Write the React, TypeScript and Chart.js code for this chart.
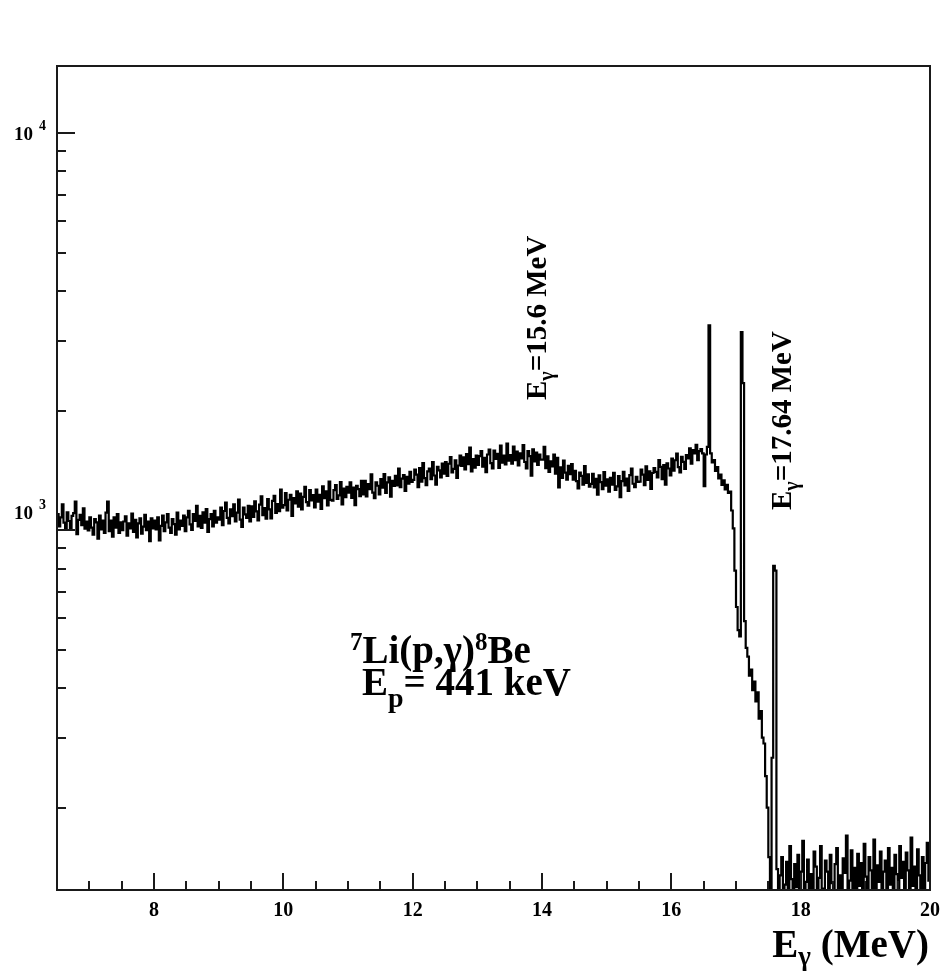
import React, { useEffect, useRef } from 'react';
import { Chart, registerables } from 'chart.js';

Chart.register(...registerables);

// ---------- data ----------
const BIN_START = 6.5; // MeV, left edge of first bin
const BIN_WIDTH = 0.025; // MeV

// counts per bin
const COUNTS_6_5_TO_8_5 = [
  1097, 1022, 1076, 1161, 1044, 1012, 1108, 1054, 1001, 1086, 1103, 1180, 977, 1061, 1092, 1029, 1134, 1008, 1050, 998,
  1076, 1014, 973, 1066, 1045, 952, 1087, 1004, 1056, 983, 1107, 1180, 994, 1056, 963, 1076, 1014, 1097, 983, 1045,
  999, 1051, 1082, 968, 1040, 1009, 1100, 989, 1061, 958, 1040, 1071, 979, 1020, 1092, 999, 1051, 937, 1071, 1009,
  1056, 1004, 1076, 942, 1025, 1087, 994, 1045, 1097, 1014, 983, 1066, 1035, 973, 1107, 1004, 1056, 1025, 1087, 994,
];
const COUNTS_8_5_TO_10_5 = [
  1076, 1118, 1033, 1001, 1097, 1054, 1150, 1022, 1086, 1012, 1108, 1044, 1129, 990, 1065, 1097, 1022, 1118, 1044, 1076,
  1062, 1139, 1029, 1117, 1172, 1073, 1040, 1128, 1084, 1161, 1051, 1106, 1194, 1062, 1018, 1139, 1095, 1073, 1150, 1051,
  1148, 1080, 1181, 1114, 1058, 1159, 1215, 1091, 1136, 1069, 1196, 1127, 1070, 1185, 1219, 1104, 1162, 1116, 1265, 1139,
  1156, 1239, 1121, 1192, 1227, 1086, 1204, 1168, 1251, 1145, 1236, 1128, 1212, 1284, 1176, 1152, 1260, 1188, 1224, 1140,
];
const COUNTS_10_5_TO_12_5 = [
  1264, 1179, 1227, 1130, 1288, 1203, 1251, 1154, 1324, 1191, 1186, 1260, 1297, 1198, 1223, 1321, 1161, 1272, 1210, 1284,
  1242, 1318, 1205, 1280, 1155, 1293, 1268, 1217, 1330, 1230, 1331, 1216, 1306, 1267, 1382, 1242, 1203, 1318, 1293, 1229,
  1344, 1279, 1383, 1240, 1318, 1357, 1214, 1331, 1292, 1370, 1295, 1428, 1282, 1348, 1375, 1255, 1362, 1308, 1402, 1322,
  1338, 1420, 1379, 1283, 1433, 1324, 1474, 1351, 1297, 1406, 1428, 1344, 1484, 1372, 1302, 1442, 1414, 1358, 1470, 1386,
];
const COUNTS_12_5_TO_14_5 = [
  1483, 1368, 1469, 1526, 1397, 1426, 1498, 1354, 1454, 1541, 1450, 1524, 1421, 1554, 1465, 1613, 1406, 1510, 1436, 1539,
  1460, 1535, 1580, 1445, 1520, 1400, 1550, 1595, 1475, 1430, 1586, 1510, 1556, 1434, 1632, 1479, 1540, 1464, 1650, 1495,
  1545, 1469, 1622, 1499, 1576, 1454, 1561, 1515, 1637, 1484, 1429, 1581, 1535, 1370, 1596, 1490, 1566, 1459, 1550, 1505,
  1505, 1620, 1431, 1534, 1401, 1490, 1446, 1549, 1387, 1519, 1280, 1438, 1354, 1495, 1396, 1340, 1452, 1382, 1466, 1340,
];
const COUNTS_14_5_TO_16_5 = [
  1409, 1328, 1274, 1396, 1369, 1301, 1450, 1314, 1382, 1287, 1307, 1386, 1280, 1346, 1228, 1373, 1320, 1267, 1399, 1294,
  1341, 1249, 1354, 1302, 1394, 1262, 1289, 1368, 1210, 1328, 1402, 1295, 1348, 1255, 1375, 1428, 1308, 1282, 1362, 1322,
  1324, 1420, 1379, 1297, 1447, 1338, 1406, 1269, 1392, 1433, 1401, 1358, 1500, 1443, 1344, 1457, 1302, 1472, 1429, 1373,
  1514, 1411, 1499, 1558, 1441, 1397, 1529, 1485, 1426, 1544, 1515, 1605, 1470, 1590, 1560, 1640, 1500, 1580, 1600, 1560,
];
const COUNTS_16_5_TO_17_5 = [
  1290, 1550, 1620, 3280, 1560, 1480, 1500, 1410, 1440, 1350, 1380, 1300, 1335, 1265, 1300, 1240, 1250, 1120, 1010, 790,
  640, 560, 540, 3150, 2345, 590, 505, 480, 430, 445, 395, 415, 370, 390, 335, 350, 300, 290, 240, 200,
];
const COUNTS_17_5_TO_20 = [
  150, 100, 267, 812, 790, 140, 112, 135, 150, 105, 128, 146, 118, 160, 132, 108, 144, 126, 152, 115,
  138, 165, 110, 130, 148, 120, 136, 104, 155, 142, 118, 133, 160, 125, 112, 147, 138, 106, 152, 129,
  116, 144, 158, 122, 135, 102, 149, 137, 170, 114, 131, 156, 120, 141, 109, 153, 127, 145, 118, 162,
  134, 111, 150, 139, 124, 166, 107, 143, 130, 155, 119, 138, 147, 103, 158, 128, 141, 115, 152, 136,
  121, 160, 133, 146, 108, 154, 139, 117, 168, 127, 142, 112, 157, 135, 124, 150, 106, 145, 163, 131,
];
const COUNTS = [
  ...COUNTS_6_5_TO_8_5,
  ...COUNTS_8_5_TO_10_5,
  ...COUNTS_10_5_TO_12_5,
  ...COUNTS_12_5_TO_14_5,
  ...COUNTS_14_5_TO_16_5,
  ...COUNTS_16_5_TO_17_5,
  ...COUNTS_17_5_TO_20,
];

const X_MIN = 6.5;
const X_MAX = 20;
const Y_MIN = 124;
const Y_MAX = 14750;

const X_TICK_LABELS = [8, 10, 12, 14, 16, 18, 20];
const X_MINOR_STEP = 0.5;
const Y_MAJOR_TICKS = [1000, 10000];
const Y_TICK_EXPONENTS = ['3', '4'];
const Y_MINOR_TICKS = [200, 300, 400, 500, 600, 700, 800, 900, 2000, 3000, 4000, 5000, 6000, 7000, 8000, 9000];

const PEAK_LABELS = ['15.6', '17.64'];
const REACTION = { a: '7', target: 'Li(p,\u03b3)', b: '8', product: 'Be' };
const BEAM_ENERGY = '441 keV';
const X_TITLE = { main: 'E', sub: '\u03b3', unit: ' (MeV)' };

// ---------- drawing helpers ----------
const SERIF = '"Liberation Serif", "Times New Roman", serif';
type Seg = { t: string; size: number; bold?: boolean; dy?: number };
const fontOf = (s: Seg) => `${s.bold ? 'bold ' : ''}${s.size}px ${SERIF}`;
function richWidth(ctx: CanvasRenderingContext2D, segs: Seg[]) {
  let w = 0;
  for (const s of segs) {
    ctx.font = fontOf(s);
    w += ctx.measureText(s.t).width;
  }
  return w;
}
function drawRich(ctx: CanvasRenderingContext2D, segs: Seg[], x: number, y: number) {
  let cx = x;
  ctx.textAlign = 'left';
  ctx.textBaseline = 'alphabetic';
  for (const s of segs) {
    ctx.font = fontOf(s);
    ctx.fillText(s.t, cx, y + (s.dy || 0));
    cx += ctx.measureText(s.t).width;
  }
}

const decorPlugin = {
  id: 'decor',
  beforeDraw(chart: any) {
    const ctx = chart.ctx as CanvasRenderingContext2D;
    ctx.save();
    ctx.fillStyle = '#ffffff';
    ctx.fillRect(0, 0, chart.width, chart.height);
    ctx.restore();
  },
  afterDraw(chart: any) {
    const ctx = chart.ctx as CanvasRenderingContext2D;
    const { left, right, top, bottom } = chart.chartArea;
    const xs = chart.scales.x;
    const ys = chart.scales.y;
    ctx.save();
    ctx.strokeStyle = '#1a1a1a';
    ctx.fillStyle = '#000';
    ctx.lineWidth = 2;

    // x ticks (inside, pointing up)
    const nX = Math.round((X_MAX - X_MIN) / X_MINOR_STEP);
    ctx.beginPath();
    for (let i = 0; i <= nX; i++) {
      const v = X_MIN + i * X_MINOR_STEP;
      const px = Math.round(xs.getPixelForValue(v));
      const major = X_TICK_LABELS.some((t) => Math.abs(t - v) < 1e-6);
      ctx.moveTo(px, bottom);
      ctx.lineTo(px, bottom - (major ? 17 : 9));
    }
    // y ticks (inside, pointing right)
    for (const v of Y_MAJOR_TICKS) {
      const py = Math.round(ys.getPixelForValue(v));
      ctx.moveTo(left, py);
      ctx.lineTo(left + 18, py);
    }
    for (const v of Y_MINOR_TICKS) {
      if (v < Y_MIN || v > Y_MAX) continue;
      const py = Math.round(ys.getPixelForValue(v));
      ctx.moveTo(left, py);
      ctx.lineTo(left + 9, py);
    }
    ctx.stroke();

    // frame
    ctx.strokeRect(left, top, right - left, bottom - top);

    // x tick labels
    ctx.font = `bold 20px ${SERIF}`;
    ctx.textAlign = 'center';
    ctx.textBaseline = 'alphabetic';
    for (const t of X_TICK_LABELS) {
      ctx.fillText(String(t), xs.getPixelForValue(t), bottom + 26);
    }

    // y tick labels 10^n
    Y_MAJOR_TICKS.forEach((v, i) => {
      const py = ys.getPixelForValue(v);
      const base = py + (v >= 10000 ? 7 : -11);
      ctx.font = `bold 19px ${SERIF}`;
      ctx.textAlign = 'right';
      ctx.fillText('10', 33, base);
      ctx.font = `bold 14px ${SERIF}`;
      ctx.textAlign = 'left';
      ctx.fillText(Y_TICK_EXPONENTS[i], 39, base - 10);
    });

    // rotated peak labels
    const peakPos = [
      { x: 546, y: 400 },
      { x: 791, y: 510 },
    ];
    PEAK_LABELS.forEach((e, i) => {
      ctx.save();
      ctx.translate(peakPos[i].x, peakPos[i].y);
      ctx.rotate(-Math.PI / 2);
      drawRich(ctx, [
        { t: 'E', size: 29, bold: true },
        { t: '\u03b3', size: 20, bold: true, dy: 7 },
        { t: `=${e} MeV`, size: 29, bold: true },
      ], 0, 0);
      ctx.restore();
    });

    // reaction text
    drawRich(ctx, [
      { t: REACTION.a, size: 25, bold: true, dy: -13 },
      { t: REACTION.target, size: 39, bold: true },
      { t: REACTION.b, size: 25, bold: true, dy: -13 },
      { t: REACTION.product, size: 39, bold: true },
    ], 350, 663);
    drawRich(ctx, [
      { t: 'E', size: 39, bold: true },
      { t: 'p', size: 28, bold: true, dy: 12 },
      { t: `= ${BEAM_ENERGY}`, size: 39, bold: true },
    ], 362, 695);

    // x axis title, right aligned
    const titleSegs: Seg[] = [
      { t: X_TITLE.main, size: 39, bold: true },
      { t: X_TITLE.sub, size: 27, bold: true, dy: 8 },
      { t: X_TITLE.unit, size: 39, bold: true },
    ];
    const tw = richWidth(ctx, titleSegs);
    drawRich(ctx, titleSegs, 929 - tw, 957);

    ctx.restore();
  },
};

export default function App() {
  const ref = useRef<HTMLCanvasElement | null>(null);
  useEffect(() => {
    if (!ref.current) return;
    const points = COUNTS.map((c, i) => ({ x: BIN_START + i * BIN_WIDTH, y: c }));
    points.push({ x: BIN_START + COUNTS.length * BIN_WIDTH, y: COUNTS[COUNTS.length - 1] });
    const chart = new Chart(ref.current, {
      type: 'line',
      data: {
        datasets: [
          {
            data: points,
            stepped: 'before',
            borderColor: '#000',
            borderWidth: 2.2,
            pointRadius: 0,
            fill: false,
            tension: 0,
          },
        ],
      },
      options: {
        responsive: false,
        animation: false,
        events: [],
        layout: { padding: { left: 57, top: 66, right: 15, bottom: 84 } },
        plugins: { legend: { display: false }, tooltip: { enabled: false } },
        scales: {
          x: { type: 'linear', min: X_MIN, max: X_MAX, display: false },
          y: { type: 'logarithmic', min: Y_MIN, max: Y_MAX, display: false },
        },
      },
      plugins: [decorPlugin],
    } as any);
    return () => chart.destroy();
  }, []);
  return (
    <div style={{ position: 'absolute', left: 0, top: 0, width: 945, height: 974, background: '#fff' }}>
      <canvas ref={ref} width={945} height={974} style={{ display: 'block' }} />
    </div>
  );
}
